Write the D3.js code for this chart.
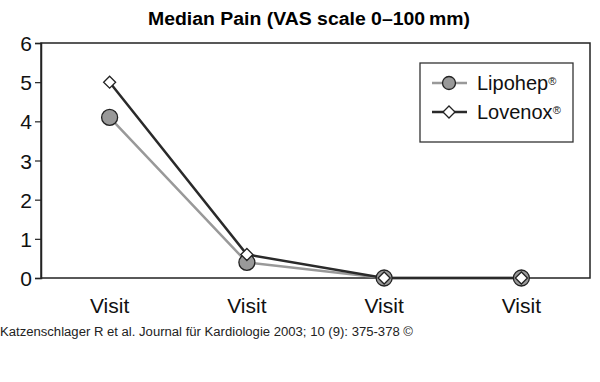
<!DOCTYPE html>
<html>
<head>
<meta charset="utf-8">
<script src="https://cdn.jsdelivr.net/npm/d3@7"></script>
<style>
  body { margin: 0; background: #fff; }
  text { font-family: "Liberation Sans", Arial, sans-serif; }
</style>
</head>
<body>
<svg id="chart" width="600" height="382"></svg>
<script>
// data
var visits = ["Visit 1", "Visit 2", "Visit 3", "Visit 4"];
var visitLabels = ["Visit", "Visit", "Visit", "Visit"];
var lipohep = [4.1, 0.4, 0, 0];
var lovenox = [5, 0.6, 0, 0];
var yTicks = [0, 1, 2, 3, 4, 5, 6];

var svg = d3.select("#chart");
var margin = {left: 41, top: 43, right: 10, bottom: 104};
var W = 600, H = 382;

var x = d3.scalePoint().domain(visits).range([margin.left, W - margin.right]).padding(0.5);
var y = d3.scaleLinear().domain([0, 6]).range([H - margin.bottom, margin.top]);

// title
svg.append("text")
  .attr("x", 148).attr("y", 25)
  .style("font-size", "18px").style("font-weight", "bold")
  .attr("textLength", 322).attr("lengthAdjust", "spacingAndGlyphs")
  .text("Median Pain (VAS scale 0\u2013100\u2009mm)");

// plot frame
svg.append("rect")
  .attr("x", margin.left).attr("y", margin.top)
  .attr("width", W - margin.right - margin.left)
  .attr("height", y(0) - margin.top)
  .attr("fill", "none").attr("stroke", "#222").attr("stroke-width", 1.5);

// y axis
var yAxis = svg.append("g")
  .attr("transform", "translate(" + margin.left + ",0)")
  .call(d3.axisLeft(y).tickValues(yTicks).tickSize(6).tickPadding(3).tickFormat(d3.format("d")));
yAxis.select(".domain").attr("stroke", "#222").attr("stroke-width", 1.5);
yAxis.selectAll(".tick line").attr("stroke", "#222").attr("stroke-width", 1.2);
yAxis.selectAll(".tick text")
  .style("font-size", "21px").style("font-family", "Liberation Sans, Arial, sans-serif")
  .attr("fill", "#111").attr("dy", "0.36em");

// x labels
svg.selectAll(".xlab").data(visits).enter().append("text")
  .attr("class", "xlab")
  .attr("x", function(d) { return x(d); })
  .attr("y", 313)
  .attr("text-anchor", "middle")
  .style("font-size", "21px").attr("fill", "#111")
  .text(function(d, i) { return visitLabels[i]; });

var line = d3.line()
  .x(function(d, i) { return x(visits[i]); })
  .y(function(d) { return y(d); });

var diamond = function(cx, cy, s) {
  return "M" + cx + "," + (cy - s) + "L" + (cx + s) + "," + cy + "L" + cx + "," + (cy + s) + "L" + (cx - s) + "," + cy + "Z";
};

// lines
svg.append("path").datum(lipohep).attr("d", line)
  .attr("fill", "none").attr("stroke", "#999").attr("stroke-width", 2.5);
svg.append("path").datum(lovenox).attr("d", line)
  .attr("fill", "none").attr("stroke", "#2a2a2a").attr("stroke-width", 2.5);

// markers
svg.selectAll(".lipo").data(lipohep).enter().append("circle")
  .attr("cx", function(d, i) { return x(visits[i]); })
  .attr("cy", function(d) { return y(d); })
  .attr("r", 8)
  .attr("fill", "#999").attr("stroke", "#222").attr("stroke-width", 1.3);
svg.selectAll(".love").data(lovenox).enter().append("path")
  .attr("d", function(d, i) { return diamond(x(visits[i]), y(d), 6); })
  .attr("fill", "#fff").attr("stroke", "#222").attr("stroke-width", 1.3);

// legend
var lg = svg.append("g");
lg.append("rect").attr("x", 420).attr("y", 63).attr("width", 153).attr("height", 79)
  .attr("fill", "#fff").attr("stroke", "#333").attr("stroke-width", 1.3);

lg.append("line").attr("x1", 432).attr("x2", 467).attr("y1", 83).attr("y2", 83)
  .attr("stroke", "#999").attr("stroke-width", 2.5);
lg.append("circle").attr("cx", 449).attr("cy", 83).attr("r", 6.5)
  .attr("fill", "#999").attr("stroke", "#222").attr("stroke-width", 1.3);
lg.append("line").attr("x1", 432).attr("x2", 467).attr("y1", 112).attr("y2", 112)
  .attr("stroke", "#2a2a2a").attr("stroke-width", 2.5);
lg.append("path").attr("d", diamond(449, 112, 6))
  .attr("fill", "#fff").attr("stroke", "#222").attr("stroke-width", 1.3);

var names = ["Lipohep", "Lovenox"];
names.forEach(function(n, i) {
  var t = lg.append("text").attr("x", 477).attr("y", 83 + i * 29 + 7)
    .style("font-size", "20px").attr("fill", "#111");
  t.append("tspan").text(n);
  t.append("tspan").attr("dy", "-0.45em").style("font-size", "11px").text("\u00AE");
});

// source line
svg.append("text")
  .attr("x", 0).attr("y", 336)
  .style("font-size", "12px").attr("fill", "#222")
  .attr("textLength", 413).attr("lengthAdjust", "spacingAndGlyphs")
  .text("Katzenschlager R et al. Journal f\u00FCr Kardiologie 2003; 10 (9): 375-378 \u00A9");
</script>
</body>
</html>
